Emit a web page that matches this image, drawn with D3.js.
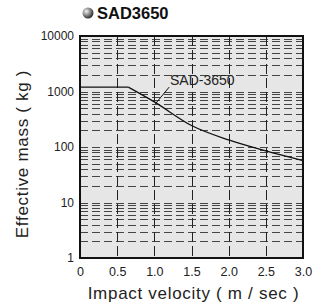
<!DOCTYPE html>
<meta charset="utf-8">
<style>
body { margin: 0; background: #fff; }
svg { font-family: 'Liberation Sans', Arial, sans-serif; }
.grid-h line { stroke: #444; stroke-width: 1; stroke-dasharray: 8,4; }
.grid-v line { stroke: #222; stroke-width: 1; stroke-dasharray: 10,4; }
.axis text { fill: #222; }
</style>
<body>
<svg width="314" height="305"></svg>
<script src="https://d3js.org/d3.v7.min.js"></script>
<script>
// values
var velocity = [0, 0.65, 1.0, 1.5, 2.0, 2.5, 3.0];
var mass     = [1200, 1200, 650, 244, 134, 85, 57];
var xTicks = [0, 0.5, 1.0, 1.5, 2.0, 2.5, 3.0];
var xTickLabels = ["0", "0.5", "1.0", "1.5", "2.0", "2.5", "3.0"];
var yTicks = [1, 10, 100, 1000, 10000];
var title = "SAD3650";
var seriesLabel = "SAD-3650";

(function() {
  var svg = d3.select("svg");
  var plotL = 80, plotR = 303, plotT = 36, plotB = 258;

  var x = d3.scaleLinear().domain([0, 3]).range([plotL, plotR]);
  var y = d3.scaleLog().domain([1, 10000]).range([plotB, plotT]);

  // plot background
  svg.append("rect")
      .attr("x", plotL).attr("y", plotT)
      .attr("width", plotR - plotL).attr("height", plotB - plotT)
      .attr("fill", "#e6e6e6");

  // horizontal grid at every log step
  var hLines = [];
  [1, 10, 100, 1000].forEach(function(d) {
    for (var k = 2; k <= 10; k++) hLines.push(d * k);
  });
  hLines = hLines.filter(function(v) { return v < 10000; });

  svg.append("g").attr("class", "grid-h")
    .selectAll("line").data(hLines).enter().append("line")
      .attr("x1", plotL).attr("x2", plotR)
      .attr("y1", function(d) { return Math.round(y(d)) + 0.5; })
      .attr("y2", function(d) { return Math.round(y(d)) + 0.5; });

  // vertical grid
  svg.append("g").attr("class", "grid-v")
    .selectAll("line").data(xTicks.slice(1, -1)).enter().append("line")
      .attr("x1", function(d) { return Math.round(x(d)) + 0.5; })
      .attr("x2", function(d) { return Math.round(x(d)) + 0.5; })
      .attr("y1", plotT).attr("y2", plotB);

  // curve: flat part straight, falling part smoothed
  var pts = velocity.map(function(v, i) { return [v, mass[i]]; });
  var line = d3.line()
      .x(function(d) { return x(d[0]); })
      .y(function(d) { return y(d[1]); });
  var smooth = d3.line()
      .x(function(d) { return x(d[0]); })
      .y(function(d) { return y(d[1]); })
      .curve(d3.curveMonotoneX);
  [line(pts.slice(0, 2)), smooth(pts.slice(1))].forEach(function(d) {
    svg.append("path")
        .attr("d", d)
        .attr("fill", "none")
        .attr("stroke", "#111")
        .attr("stroke-width", 1.3);
  });

  // frame
  svg.append("rect")
      .attr("x", plotL).attr("y", plotT)
      .attr("width", plotR - plotL).attr("height", plotB - plotT)
      .attr("fill", "none")
      .attr("stroke", "#111")
      .attr("stroke-width", 2);

  // axes
  var xAxis = svg.append("g").attr("class", "axis")
      .attr("transform", "translate(0," + plotB + ")")
      .call(d3.axisBottom(x).tickValues(xTicks).tickSize(0).tickPadding(9)
        .tickFormat(function(d, i) { return xTickLabels[i]; }));
  xAxis.attr("font-family", null).attr("font-size", 12.5);
  xAxis.select(".domain").remove();

  var yAxis = svg.append("g").attr("class", "axis")
      .attr("transform", "translate(" + plotL + ",0)")
      .call(d3.axisLeft(y).tickValues(yTicks).tickSize(0).tickPadding(6)
        .tickFormat(d3.format("d")));
  yAxis.attr("font-family", null).attr("font-size", 12);
  yAxis.select(".domain").remove();

  // axis titles
  svg.append("text")
      .attr("x", (plotL + plotR) / 2 + 2).attr("y", 299)
      .attr("text-anchor", "middle")
      .attr("font-size", 17)
      .attr("letter-spacing", 0.7)
      .attr("fill", "#222")
      .text("Impact velocity ( m / sec )");

  svg.append("text")
      .attr("transform", "translate(28," + ((plotT + plotB) / 2 + 7) + ") rotate(-90)")
      .attr("text-anchor", "middle")
      .attr("font-size", 17)
      .attr("letter-spacing", 0.7)
      .attr("fill", "#222")
      .text("Effective mass ( kg )");

  // title with bullet
  var grad = svg.append("defs").append("radialGradient")
      .attr("id", "ball").attr("cx", "35%").attr("cy", "35%").attr("r", "65%");
  grad.append("stop").attr("offset", "0%").attr("stop-color", "#f2f2f2");
  grad.append("stop").attr("offset", "100%").attr("stop-color", "#333");
  svg.append("circle")
      .attr("cx", 88).attr("cy", 13).attr("r", 5.5)
      .attr("fill", "url(#ball)");
  svg.append("text")
      .attr("x", 97).attr("y", 19)
      .attr("font-size", 16.5)
      .attr("font-weight", "bold")
      .attr("fill", "#111")
      .text(title);

  // series label with leader line
  svg.append("line")
      .attr("x1", x(1.0) + 1).attr("y1", y(650) + 2)
      .attr("x2", x(1.2)).attr("y2", y(1200))
      .attr("stroke", "#111").attr("stroke-width", 1);
  svg.append("text")
      .attr("x", 170).attr("y", 85)
      .attr("font-size", 14)
      .attr("fill", "#222")
      .text(seriesLabel);
})();
</script>
</body>
